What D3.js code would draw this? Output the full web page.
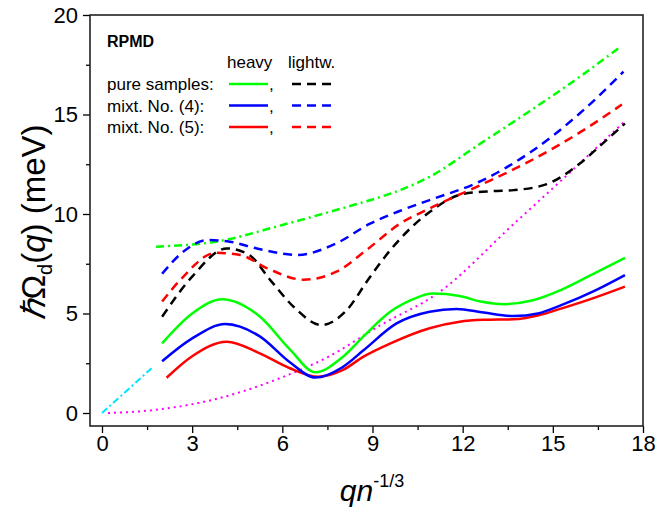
<!DOCTYPE html>
<html>
<head>
<meta charset="utf-8">
<script src="https://cdn.jsdelivr.net/npm/d3@7"></script>
<style>
  body { margin: 0; background: #fff; }
  svg { font-family: "Liberation Sans", Arial, sans-serif; }
</style>
</head>
<body>
<div id="chart"></div>
<script>
// values, [q n^-1/3, energy meV]
var heavyPure = [[2.0,3.5],[3.0,5.0],[4.0,5.72],[5.25,4.85],[6.25,3.2],[7.1,2.05],[8.0,2.8],[8.7,3.85],
  [9.6,5.1],[10.4,5.75],[11.0,6.0],[11.9,5.88],[12.6,5.6],[13.4,5.47],[14.3,5.65],[15.3,6.2],[16.3,6.95],[17.4,7.8]];
var heavyMix4 = [[2.0,2.6],[3.0,3.75],[4.1,4.47],[5.25,3.85],[6.25,2.55],[7.1,1.78],[8.0,2.3],[8.7,3.15],
  [9.8,4.5],[10.9,5.09],[11.8,5.23],[12.7,5.05],[13.7,4.87],[14.5,5.0],[15.3,5.43],[16.4,6.15],[17.4,6.93]];
var heavyMix5 = [[2.15,1.77],[3.0,2.85],[4.15,3.58],[5.25,3.0],[6.25,2.25],[7.2,1.82],[8.0,2.15],
  [8.7,2.83],[9.6,3.5],[10.9,4.26],[11.9,4.59],[12.7,4.68],[13.7,4.71],[14.5,4.9],[15.3,5.26],
  [16.4,5.8],[17.4,6.35]];
var lightPure = [[2.0,4.84],[3.0,6.85],[4.15,8.27],[4.9,7.94],[5.6,6.68],[6.4,5.3],[7.3,4.42],[8.1,5.1],
  [8.9,6.8],[9.6,8.2],[10.9,10.1],[12.0,11.0],[13.0,11.15],[13.7,11.2],[14.8,11.5],[15.9,12.54],[16.7,13.6],[17.4,14.55]];
var lightMix4 = [[2.0,7.0],[2.7,8.1],[3.5,8.69],[4.25,8.61],[5.15,8.27],[6.5,7.94],[7.8,8.53],[8.9,9.5],
  [9.9,10.15],[10.9,10.7],[12.6,11.65],[14.2,13.05],[15.9,15.06],[17.35,17.15]];
var lightMix5 = [[2.0,5.6],[2.6,6.68],[3.8,8.05],[4.6,7.94],[5.5,7.27],[6.7,6.7],[7.8,7.1],[8.8,8.19],
  [9.9,9.5],[10.9,10.28],[12.6,11.46],[14.2,12.63],[15.9,14.1],[17.3,15.5]];
var greenDashDot = [[1.8,8.36],[3.8,8.61],[6.0,9.45],[8.25,10.4],[9.25,10.85],[10.0,11.25],[10.9,11.87],[12.6,13.55],
  [14.2,15.14],[15.9,16.9],[17.2,18.35]];
var cyanLine = [[0,0],[1.65,2.25]];
var magentaDots = [[0.2,0],[1.0,0.05],[2.0,0.2],[3.7,0.67],[5.9,1.74],[7.5,2.8],[9.25,4.4],[11.2,6.05],
  [13.7,9.5],[15.9,12.55],[17.35,14.6]];

var xTicks = [0, 3, 6, 9, 12, 15, 18];
var xMinor = [1.5, 4.5, 7.5, 10.5, 13.5, 16.5];
var yTicks = [0, 5, 10, 15, 20];
var yMinor = [2.5, 7.5, 12.5, 17.5];

var legendRows = ["pure samples:", "mixt. No. (4):", "mixt. No. (5):"];
var legendColors = ["#00ff00", "#0000ff", "#ff0000"];
var legendLight = ["#000000", "#0000ff", "#ff0000"];

var W = 659, H = 509;
var frame = {left: 90, right: 643, top: 15, bottom: 426};

var x = d3.scaleLinear().domain([0, 18]).range([102, 643]);
var y = d3.scaleLinear().domain([0, 20]).range([413, 15]);

var svg = d3.select('#chart').append('svg')
    .attr('width', W)
    .attr('height', H);

// axes
var gx = svg.append('g').attr('transform', 'translate(0,' + frame.bottom + ')');
gx.call(d3.axisBottom(x).tickValues(xTicks).tickSize(7).tickPadding(2));
gx.append('g').call(d3.axisBottom(x).tickValues(xMinor).tickSize(4).tickFormat(''));

var gy = svg.append('g').attr('transform', 'translate(' + frame.left + ',0)');
gy.call(d3.axisLeft(y).tickValues(yTicks).tickSize(7).tickPadding(5));
gy.append('g').call(d3.axisLeft(y).tickValues(yMinor).tickSize(4).tickFormat(''));

svg.selectAll('.domain').remove();
svg.selectAll('.tick line').attr('stroke', '#000').attr('stroke-width', 1.3);
svg.selectAll('.tick text')
    .attr('font-family', '"Liberation Sans", Arial, sans-serif')
    .attr('font-size', 22)
    .attr('fill', '#000');

svg.append('rect')
    .attr('x', frame.left)
    .attr('y', frame.top)
    .attr('width', frame.right - frame.left)
    .attr('height', frame.bottom - frame.top)
    .attr('fill', 'none')
    .attr('stroke', '#222')
    .attr('stroke-width', 1.6);

// curves
var line = d3.line()
    .x(function(d) { return x(d[0]); })
    .y(function(d) { return y(d[1]); })
    .curve(d3.curveMonotoneX);

var series = [
    {data: magentaDots, color: '#ff00ff', dash: '2,4', width: 2},
    {data: cyanLine, color: '#00e5ff', dash: '7,3,2,3', width: 2},
    {data: greenDashDot, color: '#00ff00', dash: '8,4,2,4', width: 2.5},
    {data: lightPure, color: '#000000', dash: '9,6', width: 2.5},
    {data: lightMix4, color: '#0000ff', dash: '9,6', width: 2.5},
    {data: lightMix5, color: '#ff0000', dash: '9,6', width: 2.5},
    {data: heavyPure, color: '#00ff00', dash: null, width: 2.5},
    {data: heavyMix5, color: '#ff0000', dash: null, width: 2.5},
    {data: heavyMix4, color: '#0000ff', dash: null, width: 2.5}
];

svg.append('g').selectAll('path')
    .data(series)
    .enter()
    .append('path')
    .attr('d', function(d) { return line(d.data); })
    .attr('fill', 'none')
    .attr('stroke', function(d) { return d.color; })
    .attr('stroke-width', function(d) { return d.width; })
    .attr('stroke-dasharray', function(d) { return d.dash; });

// legend
var lg = svg.append('g').attr('font-size', 17).attr('fill', '#000');
lg.append('text').attr('x', 107).attr('y', 47).attr('font-size', 16).attr('font-weight', 'bold').text('RPMD');
lg.append('text').attr('x', 227).attr('y', 68).text('heavy');
lg.append('text').attr('x', 288).attr('y', 68).text('lightw.');

legendRows.forEach(function(label, i) {
    var ly = 84 + i * 21.5;
    lg.append('text').attr('x', 107).attr('y', ly + 6).text(label);
    lg.append('line')
        .attr('x1', 229).attr('x2', 268).attr('y1', ly).attr('y2', ly)
        .attr('stroke', legendColors[i]).attr('stroke-width', 2.5);
    lg.append('text').attr('x', 269).attr('y', ly + 6).text(',');
    lg.append('line')
        .attr('x1', 292).attr('x2', 333).attr('y1', ly).attr('y2', ly)
        .attr('stroke', legendLight[i]).attr('stroke-width', 2.5)
        .attr('stroke-dasharray', '9,6');
});

// axis titles
var xt = svg.append('text')
    .attr('x', 372).attr('y', 501)
    .attr('text-anchor', 'middle')
    .attr('font-size', 30);
xt.append('tspan').attr('font-style', 'italic').text('qn');
xt.append('tspan').attr('font-size', 18).attr('dy', -14).text('-1/3');

var yt = svg.append('text')
    .attr('transform', 'translate(45,222) rotate(-90)')
    .attr('text-anchor', 'middle')
    .attr('font-size', 33);
yt.append('tspan').attr('font-style', 'italic').text('\u210F');
yt.append('tspan').text('\u03A9');
yt.append('tspan').attr('font-size', 20).attr('dy', 7).text('d');
yt.append('tspan').attr('dy', -7).text('(');
yt.append('tspan').attr('font-style', 'italic').text('q');
yt.append('tspan').text(') (meV)');
</script>
</body>
</html>
